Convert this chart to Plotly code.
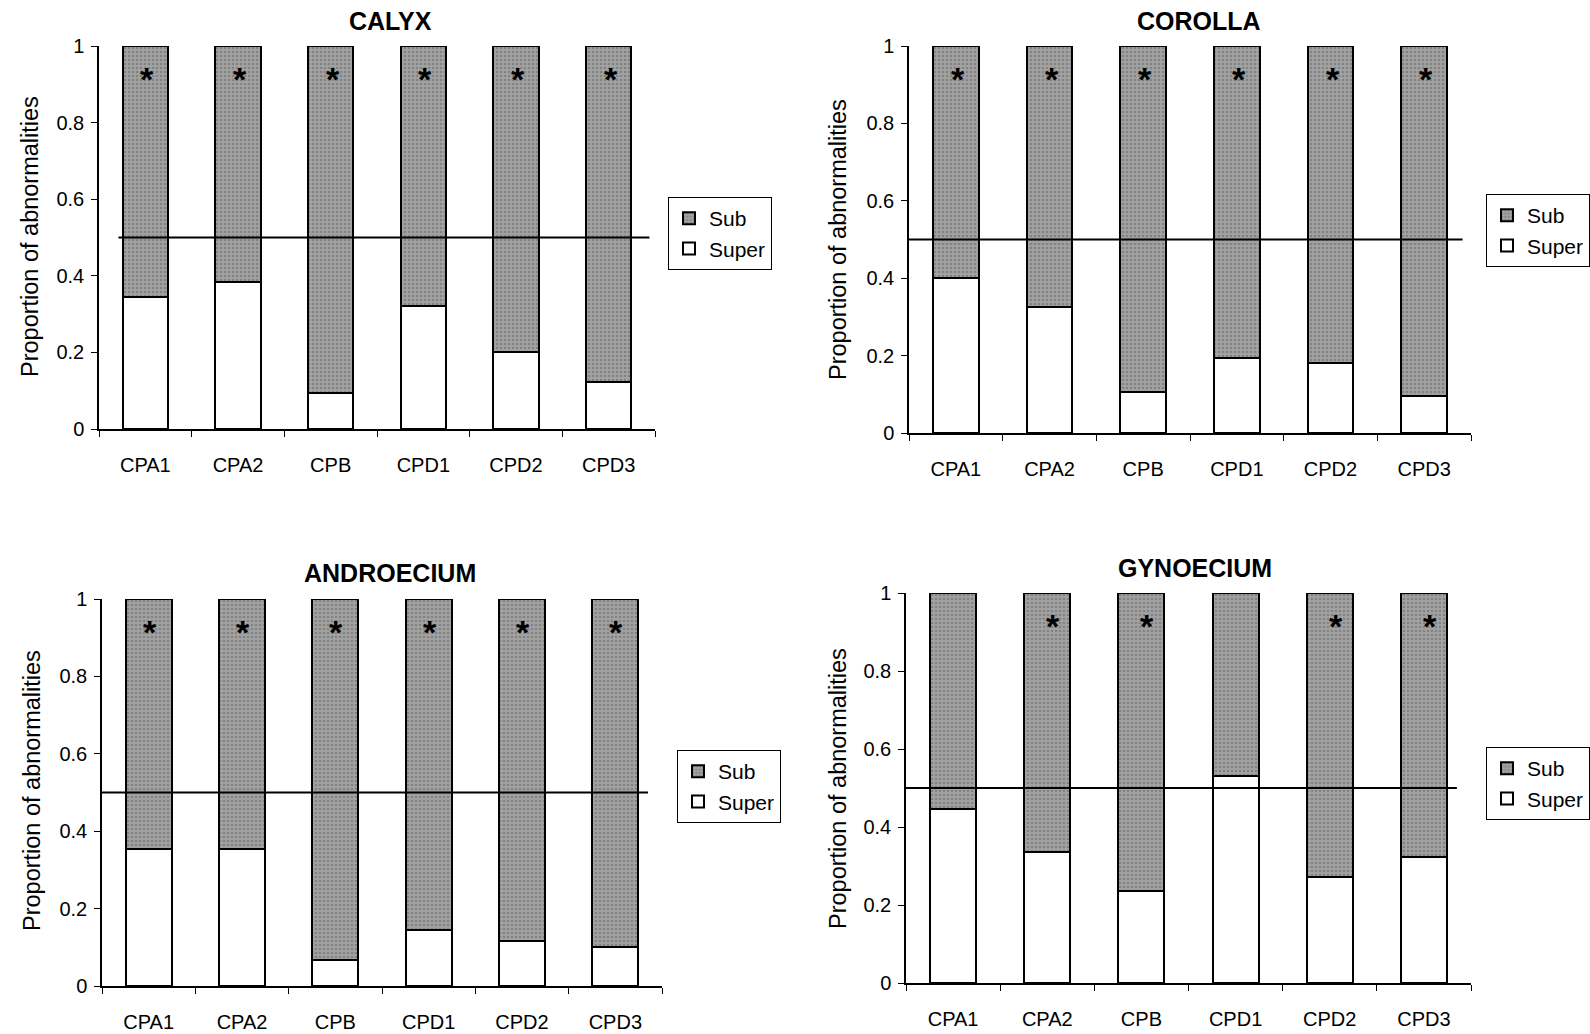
import plotly.graph_objects as go

W, H = 1590, 1034

categories = ["CPA1", "CPA2", "CPB", "CPD1", "CPD2", "CPD3"]

calyx_super = [0.345, 0.385, 0.093, 0.320, 0.202, 0.122]
calyx_sub = [0.655, 0.615, 0.907, 0.680, 0.798, 0.878]
calyx_star = [True, True, True, True, True, True]

corolla_super = [0.400, 0.325, 0.105, 0.195, 0.182, 0.095]
corolla_sub = [0.600, 0.675, 0.895, 0.805, 0.818, 0.905]
corolla_star = [True, True, True, True, True, True]

androecium_super = [0.355, 0.355, 0.068, 0.145, 0.115, 0.102]
androecium_sub = [0.645, 0.645, 0.932, 0.855, 0.885, 0.898]
androecium_star = [True, True, True, True, True, True]

gynoecium_super = [0.447, 0.337, 0.237, 0.532, 0.272, 0.322]
gynoecium_sub = [0.553, 0.663, 0.763, 0.468, 0.728, 0.678]
gynoecium_star = [False, True, True, False, True, True]

titles = ["CALYX", "COROLLA", "ANDROECIUM", "GYNOECIUM"]
y_title = "Proportion of abnormalities"
tick_vals = [0, 0.2, 0.4, 0.6, 0.8, 1]
tick_text = ["0", "0.2", "0.4", "0.6", "0.8", "1"]

panels = [
    (calyx_super, calyx_sub, calyx_star),
    (corolla_super, corolla_sub, corolla_star),
    (androecium_super, androecium_sub, androecium_star),
    (gynoecium_super, gynoecium_sub, gynoecium_star),
]


def px_x(v):
    return v / W


def px_y(v):
    return 1 - v / H


# Panel geometry in pixels: (left, right, top, bottom) of each plot area
boxes = [
    (99, 655, 46, 429),
    (909, 1471, 46, 433),
    (102, 662, 599, 986),
    (906, 1471, 593, 983),
]
legend_boxes = [(668, 197), (1486, 194), (677, 750), (1486, 747)]
title_pos = [(390, 21), (1199, 21), (390, 573), (1195, 568)]
ytitle_pos = [(30, 237), (838, 240), (32, 791), (838, 789)]
ref_span = [(0.035, 0.99), (0.0, 0.985), (0.0, 0.975), (0.0, 0.975)]
star_shift = [2, 2, 1, 6]

FONT = "Liberation Sans, Arial, sans-serif"
SUB_GREY = "#a2a2a2"
sub_pattern = dict(shape=".", fgcolor="#626262", bgcolor=SUB_GREY, size=4, solidity=0.35)

fig = go.Figure()
layout = dict(
    width=W, height=H,
    margin=dict(l=0, r=0, t=0, b=0, autoexpand=False),
    paper_bgcolor="white", plot_bgcolor="white",
    barmode="stack",
    font=dict(family=FONT, size=20, color="black"),
    annotations=[], shapes=[],
)

for i, (sup, sub, stars) in enumerate(panels):
    n = "" if i == 0 else str(i + 1)
    xa, ya = "x" + n, "y" + n
    leg = "legend" + n

    fig.add_trace(go.Bar(
        x=categories, y=sup, name="Super", xaxis=xa, yaxis=ya, legend=leg,
        legendrank=2,
        marker=dict(color="white", line=dict(color="black", width=2)),
        width=0.49, hoverinfo="skip",
    ))
    fig.add_trace(go.Bar(
        x=categories, y=sub, name="Sub", xaxis=xa, yaxis=ya, legend=leg,
        legendrank=1,
        marker=dict(color=SUB_GREY, pattern=sub_pattern, line=dict(color="black", width=2)),
        width=0.49, hoverinfo="skip",
    ))

    # significance markers near the top of the bars
    for c, s in zip(categories, stars):
        if s:
            layout["annotations"].append(dict(
                text="<b>*</b>", x=c, y=0.915, xref=xa, yref=ya, showarrow=False,
                xshift=star_shift[i], font=dict(size=34, family=FONT, color="black"),
            ))

    x0, x1, yt, yb = boxes[i]
    layout["xaxis" + n] = dict(
        domain=[px_x(x0), px_x(x1)], anchor=ya, type="category",
        range=[-0.5, 5.5], showline=True, linecolor="black", linewidth=1.5,
        ticks="outside", tickson="boundaries", ticklen=6, tickcolor="black",
        showgrid=False, zeroline=False, ticklabelstandoff=17, automargin=False,
        tickfont=dict(size=20),
    )
    layout["yaxis" + n] = dict(
        domain=[px_y(yb), px_y(yt)], anchor=xa, range=[0, 1.0],
        showline=True, linecolor="black", linewidth=1.5,
        ticks="outside", ticklen=6, tickcolor="black", ticklabelstandoff=3,
        tickvals=tick_vals, ticktext=tick_text, automargin=False,
        showgrid=False, zeroline=False, tickfont=dict(size=20),
    )
    lx, ly = legend_boxes[i]
    layout[leg] = dict(
        x=px_x(lx), y=px_y(ly), xanchor="left", yanchor="top",
        bordercolor="black", borderwidth=1, bgcolor="white",
        traceorder="normal", font=dict(size=21), itemwidth=30,
    )
    tx, ty = title_pos[i]
    layout["annotations"].append(dict(
        text="<b>%s</b>" % titles[i], x=px_x(tx), y=px_y(ty), xref="paper", yref="paper",
        showarrow=False, font=dict(size=25), xanchor="center", yanchor="middle",
    ))
    ax, ay = ytitle_pos[i]
    layout["annotations"].append(dict(
        text=y_title, x=px_x(ax), y=px_y(ay), xref="paper", yref="paper",
        showarrow=False, textangle=-90, font=dict(size=23.5),
        xanchor="center", yanchor="middle",
    ))
    s0, s1 = ref_span[i]
    layout["shapes"].append(dict(
        type="line", xref=xa + " domain", yref=ya, x0=s0, x1=s1, y0=0.5, y1=0.5,
        line=dict(color="black", width=2),
    ))

fig.update_layout(**layout)
fig.write_html("out.html")
